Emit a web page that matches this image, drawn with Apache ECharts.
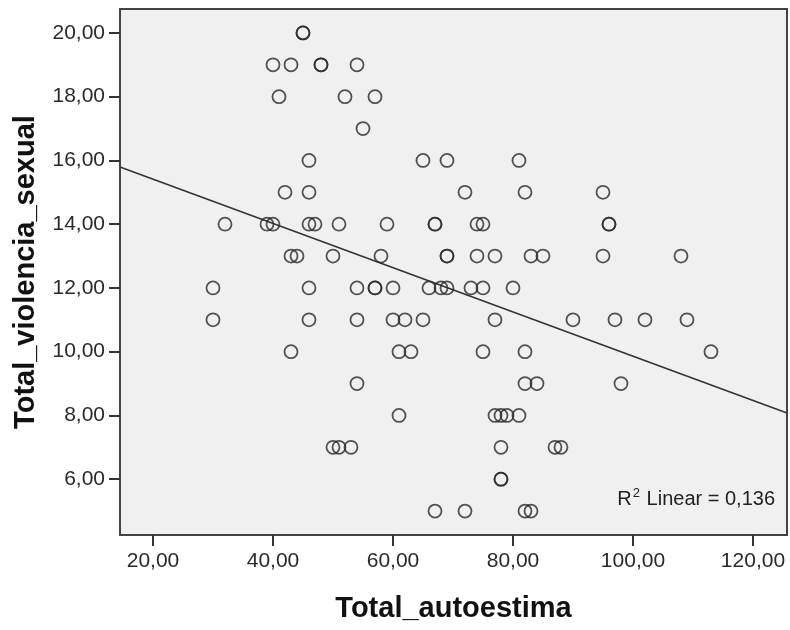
<!DOCTYPE html>
<html>
<head>
<meta charset="utf-8">
<script src="https://cdn.jsdelivr.net/npm/echarts@6/dist/echarts.min.js"></script>
<style>html,body{margin:0;padding:0;background:#fff}#c{width:790px;height:630px}</style>
</head>
<body>
<div id="c"></div>
<script>
// Data (x = Total_autoestima, y = Total_violencia_sexual)
var autoestima = [45,45, 40,43,48,48,54, 41,52,57, 55, 46,65,69,81, 42,46,72,82,95,
  32,39,40,46,47,51,59,67,67,74,75,96,96,
  43,44,50,58,69,69,74,77,83,85,95,108,
  30,46,54,57,57,60,66,68,69,73,75,80,
  30,46,54,60,62,65,77,90,97,102,109,
  43,61,63,75,82,113,
  54,82,84,98,
  61,77,78,79,81,
  50,51,53,78,87,88,
  78,78,
  67,72,82,83];
var violencia = [20,20, 19,19,19,19,19, 18,18,18, 17, 16,16,16,16, 15,15,15,15,15,
  14,14,14,14,14,14,14,14,14,14,14,14,14,
  13,13,13,13,13,13,13,13,13,13,13,13,
  12,12,12,12,12,12,12,12,12,12,12,12,
  11,11,11,11,11,11,11,11,11,11,11,
  10,10,10,10,10,10,
  9,9,9,9,
  8,8,8,8,8,
  7,7,7,7,7,7,
  6,6,
  5,5,5,5];
// Fit line (R² Linear) endpoints, read at the plot edges
var fitX = [14.5, 125.67];
var fitY = [15.79, 8.08];
var xTicks = [20,40,60,80,100,120];
var yTicks = [6,8,10,12,14,16,18,20];
var xName = 'Total_autoestima';
var yName = 'Total_violencia_sexual';
var r2Text = '0,136';

var pts = autoestima.map(function(v,i){return [v, violencia[i]];});
var fitPts = fitX.map(function(v,i){return [v, fitY[i]];});
function fmt(v){return v.toFixed(2).replace('.', ',');}

var chart = echarts.init(document.getElementById('c'), null, {renderer:'canvas'});
var lblColor = '#2a2a2a';
var ff = '"Liberation Sans", Arial, sans-serif';
chart.setOption({
  animation:false,
  backgroundColor:'#ffffff',
  title:{
    text:'{a|R}{b|2}{a| Linear = ' + r2Text + '}',
    right:10, top:482,
    textStyle:{fontWeight:'normal', rich:{
      a:{fontSize:20, color:'#222', fontFamily:ff, fontWeight:'normal'},
      b:{fontSize:13, color:'#222', fontFamily:ff, fontWeight:'normal', padding:[0,1,12,1]}
    }}
  },
  grid:{left:120, right:3, top:9, bottom:95, show:true, backgroundColor:'#f0f0f0', borderColor:'#444', borderWidth:2},
  xAxis:{
    type:'value', min:14.5, max:125.67,
    name:xName, nameLocation:'middle', nameGap:59,
    nameTextStyle:{fontSize:29, fontWeight:'bold', color:'#111', fontFamily:ff},
    axisLine:{show:true, onZero:false, lineStyle:{color:'#444', width:2}},
    axisTick:{show:true, length:11, customValues:xTicks, lineStyle:{color:'#333', width:2}},
    axisLabel:{customValues:xTicks, formatter:fmt, fontSize:21, color:lblColor, margin:16, fontFamily:ff},
    splitLine:{show:false}
  },
  yAxis:{
    type:'value', min:4.25, max:20.75,
    name:yName, nameLocation:'middle', nameGap:80,
    nameTextStyle:{fontSize:29, fontWeight:'bold', color:'#111', fontFamily:ff},
    axisLine:{show:true, onZero:false, lineStyle:{color:'#444', width:2}},
    axisTick:{show:true, length:11, customValues:yTicks, lineStyle:{color:'#333', width:2}},
    axisLabel:{customValues:yTicks, formatter:fmt, fontSize:21, color:lblColor, margin:15, fontFamily:ff},
    splitLine:{show:false}
  },
  series:[
    {type:'scatter', data:pts, symbol:'circle', symbolSize:13,
     itemStyle:{color:'rgba(0,0,0,0)', borderColor:'#2a2a2a', borderWidth:1.8}},
    {type:'line', data:fitPts, symbol:'none', lineStyle:{color:'#333', width:1.6}, z:1}
  ]
});
</script>
</body>
</html>
